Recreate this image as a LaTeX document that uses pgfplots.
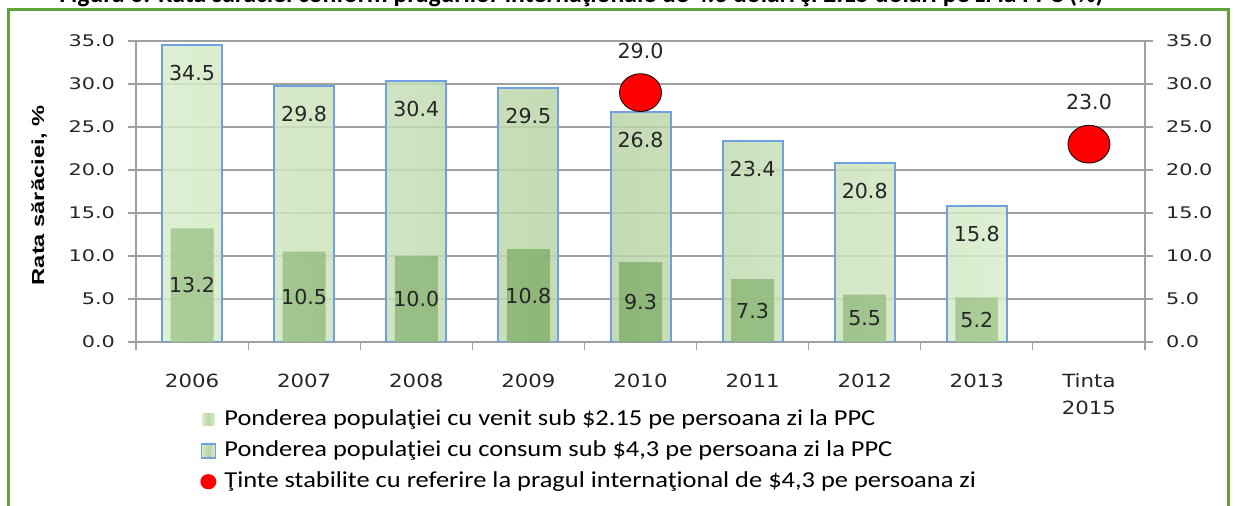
\documentclass[border=0pt]{standalone}
\usepackage{fontspec}
\usepackage{graphicx}
\usepackage{pgfplots}
\pgfplotsset{compat=1.18}
\usepackage{pgfplotstable}
\setmainfont{Carlito}
\newfontfamily\tickfontfam[FakeStretch=1.3]{DejaVu Sans}
\newfontfamily\catfontfam[FakeStretch=1.17]{DejaVu Sans}
\newfontfamily\labfontfam{DejaVu Sans}
\newfontfamily\ylabfontfam[FakeStretch=1.36]{Liberation Sans}
\newfontfamily\legfontfam[FakeStretch=1.16]{Carlito}
\newcommand\tickfont{\tickfontfam\fontsize{8}{10}\selectfont}
\newcommand\catfont{\catfontfam\fontsize{9.1}{13.5}\selectfont}
\newcommand\labfont{\labfontfam\fontsize{10.3}{12}\selectfont}
\newcommand\ylabfont{\ylabfontfam\bfseries\fontsize{8.7}{10}\selectfont}
\newcommand\legfont{\legfontfam\fontsize{11.4}{14}\selectfont}
\definecolor{framec}{RGB}{96,163,58}
\definecolor{gridc}{RGB}{160,160,160}
\definecolor{outC}{RGB}{184,211,166}
\definecolor{outE}{RGB}{216,237,203}
\definecolor{inC}{RGB}{128,174,108}
\definecolor{inE}{RGB}{164,200,144}
\definecolor{legC}{RGB}{184,215,166}
\definecolor{legE}{RGB}{218,236,205}
\definecolor{barB}{RGB}{110,160,226}

\pgfplotstableread{
x outer inner
0 34.5 13.2
1 29.8 10.5
2 30.4 10.0
3 29.5 10.8
4 26.8 9.3
5 23.4 7.3
6 20.8 5.5
7 15.8 5.2
}\bars

\pgfplotsset{lab/.style={nodes near coords={\pgfmathprintnumber[fixed,fixed zerofill,precision=1]{\pgfplotspointmeta}}, point meta=explicit}}

\begin{document}
\begin{tikzpicture}
\useasboundingbox (0pt,0pt) rectangle (617.5pt,253pt);
\draw[framec, line width=1.5pt] (4pt,-20pt) -- (4pt,248pt) -- (614pt,248pt) -- (614pt,-20pt);
\node[anchor=base west, inner sep=0pt] at (29.5pt,251.5pt) {\resizebox{522pt}{!}{\bfseries Figura 6. Rata sărăciei conform pragurilor internaţionale de 4.3 dolari şi 2.15 dolari pe zi la PPC (\%)}};

\begin{axis}[
  at={(68pt,82pt)}, anchor=south west,
  scale only axis, width=504.5pt, height=150.5pt,
  xmin=-0.5, xmax=8.5, ymin=0, ymax=35,
  xtick={-0.5,0.5,...,8.5}, xticklabels={{},{},{},{},{},{},{},{},{},{}},
  extra x ticks={0,1,...,8},
  extra x tick labels={2006,2007,2008,2009,2010,2011,2012,2013,{Tinta\\2015}},
  extra x tick style={major tick length=0pt, xticklabel style={font=\catfont, align=center, text=black!85, yshift=-12.5pt}},
  ytick={0,5,...,35},
  ymajorgrids, major grid style={gridc, line width=0.6pt},
  axis line style={gridc, line width=0.6pt},
  tick style={gridc, line width=0.6pt},
  tick align=outside, major tick length=4pt,
  xtick pos=left, ytick pos=left,
  yticklabel style={font=\tickfont, text=black!85, xshift=-3pt, /pgf/number format/.cd, fixed, fixed zerofill, precision=1},
  /pgf/number format/assume math mode=true,
  ylabel={Rata sărăciei, \%},
  every axis y label/.style={at={(axis description cs:-0.096,0.488)}, rotate=90, anchor=center, font=\ylabfont},
  legend style={at={(axis description cs:0.0634,-0.222)}, anchor=north west, draw=none, fill=none, font=\legfont, inner sep=0pt, row sep=5pt, nodes={inner sep=0pt, text height=8pt, text depth=2.5pt}},
  legend cell align=left,
]
\addplot[ybar, bar width=30pt, bar shift=0pt, draw=barB, line width=1pt, left color=outE, right color=outE, middle color=outC, fill opacity=0.85, forget plot] table[x=x, y=outer]{\bars};
\addplot[ybar, bar width=21.5pt, bar shift=0pt, draw=none, left color=inE, right color=inE, middle color=inC, fill opacity=0.85, forget plot] table[x=x, y=inner]{\bars};
\addplot[draw=none, forget plot, lab, nodes near coords style={font=\labfont, text=black!85, anchor=center, yshift=-14pt}] table[x=x, y=outer, meta=outer]{\bars};
\addplot[draw=none, forget plot, lab, nodes near coords style={font=\labfont, text=black!85, anchor=center}] table[x=x, y expr=\thisrow{inner}/2, meta=inner]{\bars};
\addplot[only marks, mark=*, mark size=10.5pt, mark options={fill=red, draw=none, yscale=0.9}, forget plot, lab, nodes near coords style={font=\labfont, text=black!85, anchor=center, yshift=21pt}] coordinates {(4,29.0) [29.0] (8,23.0) [23.0]};

\addlegendimage{legend image code/.code={\path[draw=none,fill=none] (0pt,0pt) rectangle (11.5pt,0.1pt); \path[draw=none, left color=legE, right color=legE, middle color=legC] (0.5pt,-3pt) rectangle (6.5pt,3pt);}}
\addlegendentry{Ponderea populaţiei cu venit sub \$2.15 pe persoana zi la PPC}
\addlegendimage{legend image code/.code={\path[draw=none,fill=none] (0pt,0pt) rectangle (11.5pt,0.1pt); \draw[barB, line width=0.8pt, left color=outE, right color=outE, middle color=outC] (0pt,-3.5pt) rectangle (7pt,3.5pt);}}
\addlegendentry{Ponderea populaţiei cu consum sub \$4,3 pe persoana zi la PPC}
\addlegendimage{legend image code/.code={\path[draw=none,fill=none] (0pt,0pt) rectangle (11.5pt,0.1pt); \path[draw=none, fill=red] (3.5pt,0pt) ellipse (4pt and 3.8pt);}}
\addlegendentry{Ţinte stabilite cu referire  la pragul internaţional de \$4,3 pe persoana zi}
\end{axis}

\begin{axis}[
  at={(68pt,82pt)}, anchor=south west,
  scale only axis, width=504.5pt, height=150.5pt,
  xmin=-0.5, xmax=8.5, ymin=0, ymax=35,
  axis x line=none, axis y line*=right,
  ytick={0,5,...,35},
  axis line style={gridc, line width=0.6pt},
  tick style={gridc, line width=0.6pt},
  tick align=outside, major tick length=4pt,
  yticklabel style={font=\tickfont, text=black!85, xshift=3pt, /pgf/number format/.cd, fixed, fixed zerofill, precision=1},
  /pgf/number format/assume math mode=true,
]
\end{axis}
\end{tikzpicture}
\end{document}
